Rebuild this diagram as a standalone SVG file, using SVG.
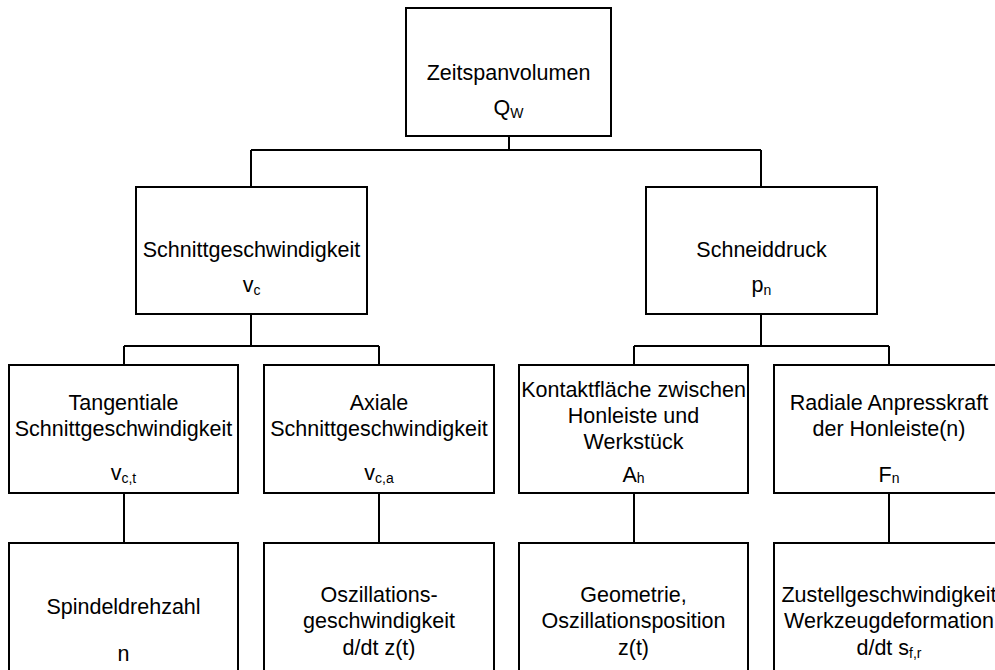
<svg xmlns="http://www.w3.org/2000/svg" width="995" height="670" viewBox="0 0 995 670">
<style>
.box{fill:#fff;stroke:#000;stroke-width:2}
.con{fill:none;stroke:#000;stroke-width:2}
text{font-family:"Liberation Sans",Arial,sans-serif;font-size:21.5px;fill:#000;text-anchor:middle}
.sub{font-size:14px}
</style>
<rect width="995" height="670" fill="#fff"/>
<g id="connectors">
<path class="con" d="M509,136V150M251,150H761M251,150V187M761,150V187"/>
<path class="con" d="M251,314V346M124,346H379M124,346V365M379,346V365"/>
<path class="con" d="M761,314V346M634,346H889M634,346V365M889,346V365"/>
<path class="con" d="M124,493V543M379,493V543M634,493V543M889,493V543"/>
</g>
<g id="n-zeitspanvolumen">
<rect class="box" x="406" y="8" width="205" height="128"/>
<text x="508.5" y="80">Zeitspanvolumen</text>
<text x="508.5" y="115">Q<tspan class="sub" dy="3">W</tspan></text>
</g>
<g id="n-schnittgeschwindigkeit">
<rect class="box" x="136" y="187" width="231" height="127"/>
<text x="251.5" y="257">Schnittgeschwindigkeit</text>
<text x="251.5" y="292">v<tspan class="sub" dy="3">c</tspan></text>
</g>
<g id="n-schneiddruck">
<rect class="box" x="646" y="187" width="231" height="127"/>
<text x="761.5" y="257">Schneiddruck</text>
<text x="761.5" y="292">p<tspan class="sub" dy="3">n</tspan></text>
</g>
<g id="n-tangential">
<rect class="box" x="9" y="365" width="229" height="128"/>
<text x="123.5" y="410">Tangentiale</text>
<text x="123.5" y="436">Schnittgeschwindigkeit</text>
<text x="123.5" y="480">v<tspan class="sub" dy="3">c,t</tspan></text>
</g>
<g id="n-axial">
<rect class="box" x="264" y="365" width="230" height="128"/>
<text x="379" y="410">Axiale</text>
<text x="379" y="436">Schnittgeschwindigkeit</text>
<text x="379" y="480">v<tspan class="sub" dy="3">c,a</tspan></text>
</g>
<g id="n-kontaktflaeche">
<rect class="box" x="519" y="365" width="229" height="128"/>
<text x="633.5" y="397">Kontaktfläche zwischen</text>
<text x="633.5" y="423">Honleiste und</text>
<text x="633.5" y="449">Werkstück</text>
<text x="633.5" y="482">A<tspan class="sub" dy="1">h</tspan></text>
</g>
<g id="n-anpresskraft">
<rect class="box" x="774" y="365" width="230" height="128"/>
<text x="889" y="410">Radiale Anpresskraft</text>
<text x="889" y="436">der Honleiste(n)</text>
<text x="889" y="482">F<tspan class="sub" dy="1">n</tspan></text>
</g>
<g id="n-spindeldrehzahl">
<rect class="box" x="9" y="543" width="229" height="130"/>
<text x="123.5" y="614">Spindeldrehzahl</text>
<text x="123.5" y="661">n</text>
</g>
<g id="n-oszillationsgeschwindigkeit">
<rect class="box" x="264" y="543" width="230" height="130"/>
<text x="379" y="602">Oszillations-</text>
<text x="379" y="628">geschwindigkeit</text>
<text x="379" y="655">d/dt z(t)</text>
</g>
<g id="n-geometrie">
<rect class="box" x="519" y="543" width="229" height="130"/>
<text x="633.5" y="602">Geometrie,</text>
<text x="633.5" y="628">Oszillationsposition</text>
<text x="633.5" y="655">z(t)</text>
</g>
<g id="n-zustellgeschwindigkeit">
<rect class="box" x="774" y="543" width="230" height="130"/>
<text x="889" y="602">Zustellgeschwindigkeit</text>
<text x="889" y="628">Werkzeugdeformation</text>
<text x="889" y="655">d/dt s<tspan class="sub" dy="3">f,r</tspan></text>
</g>
</svg>
